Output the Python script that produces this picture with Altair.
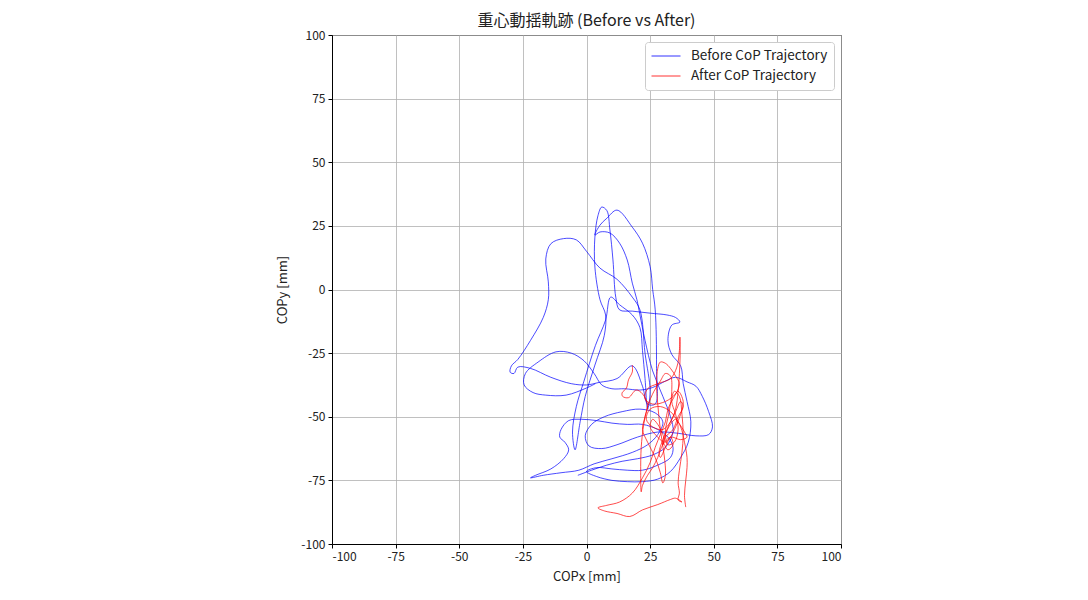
import altair as alt
import pandas as pd

series_names = ["Before CoP Trajectory", "After CoP Trajectory"]
series_colors = ["#0000ff", "#ff0000"]
axis_ticks = [-100, -75, -50, -25, 0, 25, 50, 75, 100]

before_x = [3.5, 0, -8, -16, -21, -24.5, -24, -19, -12, -6, -1, 3, 6, 10, 15, 21, 26, 31, 35, 39.5, 43,
            45.5, 48, 49.5, 48, 43, 36, 28, 20, 12, 6, 1, -0.5, 2, 7, 14, 21, 27, 30, 28, 24, 18, 10, 3,
            -3, -10, -17, -22, -20, -14, -9, -7, -8.5, -10.5, -10, -7, -2, 4, 10, 16, 22, 28, 32, 34, 33,
            28, 22, 16, 10, 4, 0, 4, 10, 16, 22, 28, 33, 37, 40, 41, 39.5, 38, 37, 33.5, 32, 33.5, 36.7,
            35, 31.6, 25, 18, 13, 11.5, 10.4, 9.2, 8, 6, 4.5, 3.3, 3.3, 5.3, 7.5, 7, 3.3, -0.5, -2.5,
            -4.5, -5.5, -4, -1, 3.5, 7.5, 9.5, 13, 18, 21, 22, 23, 24, 25, 23, 21, 18, 12, 5.3, 0, -4,
            -9, -14, -16, -15, -15, -17, -22, -27, -29.5, -30, -28.5, -27, -22, -14, -6, 0, 5, 12, 18,
            22, 24, 27, 27.5, 27, 26, 25, 22, 18, 12, 8, 5.3, 3.3, 5.3, 9.2, 13, 16, 18, 19.8, 21, 23,
            26, 30, 33, 34, 31, 26, 20, 14, 8, 2, -3.4]
before_y = [-37, -38.7, -41.5, -41.5, -40.5, -37.5, -33, -28.5, -24.5, -25, -28, -33, -37.5, -39, -39,
            -39.5, -38.5, -36, -34.5, -36.3, -38, -42, -48, -54, -57, -57.5, -56.5, -56, -58, -61,
            -62.5, -61.5, -57.5, -53, -50, -48, -47, -48.5, -52, -57, -61, -64, -66.5, -68.5, -71, -72,
            -73, -74, -73, -70.5, -66.5, -63, -60, -58, -55, -51.5, -51, -51.5, -52.5, -53, -53, -55,
            -58, -62, -66, -69, -71, -71, -70.5, -70, -71.5, -73.5, -75, -75.5, -75.5, -74.5, -71.5,
            -66, -60, -52, -44, -37, -30, -25.5, -20, -14, -12.8, -11, -10, -9.3, -8.5, -8, -3, 11.6,
            23.4, 31, 32.4, 29, 20.6, 8.8, -4, -10, -18, -29.7, -42, -52, -63, -56, -46, -36, -22, -12,
            -3, -6, -10, -15, -24, -35, -47, -40, -25, -8, -3, 4, 8.4, 15, 19.5, 20, 18, 12, 3, -4,
            -11, -20, -27.5, -30, -32.5, -33, -30.5, -31, -34.5, -37, -37.5, -36.5, -35, -30, -38,
            -45, -45, -30, -8, 0, 9, 18.2, 24.5, 31.2, 28, 25.3, 21.4, 22.6, 22.2, 18.2, 11.6, 2.5, -4,
            -10, -20, -32, -42, -50, -56, -62, -65, -66.5, -67.5, -69, -71, -73]

after_x = [18, 18, 16.5, 15.7, 14, 14.2, 16.5, 19.5, 22, 24, 23, 22, 24, 27, 29, 30, 31, 30.5, 29, 28,
           27.5, 28, 29, 31, 33, 35, 36.5, 35, 31, 26, 23, 24, 28, 33, 35.5, 36.5, 36.7, 36.8, 36.5,
           36, 35, 33, 30, 26, 23.5, 25, 29, 33, 36, 38.5, 39.5, 37, 33, 30, 28, 26, 24, 22, 21.5,
           21.3, 21.5, 22.5, 24, 26.5, 29, 31, 33, 33.5, 32.5, 31, 32, 34.5, 36, 35, 33.5, 34.5, 36.5,
           37.5, 38, 37.5, 36.5, 36, 36.5, 36, 37.5, 35, 33, 28, 22, 17, 12, 7, 4.5, 8, 13, 18, 22,
           25, 27, 29, 31, 32, 34, 36, 38, 37, 35, 33, 31, 30, 28, 26, 25, 27, 30, 32, 34, 33, 31,
           29, 28.5, 30, 32.5, 35, 37, 38, 36, 34, 31, 30, 31, 33, 35, 37, 38.5, 39.5, 39.5, 39,
           38.5, 39, 39.5, 39.5]
after_y = [-29.7, -32.4, -35.5, -38.7, -40.6, -42, -42.5, -39.5, -41, -45.5, -50, -55, -60, -66, -72,
           -76, -73, -65, -55, -45, -37, -31, -28.5, -29, -31, -34, -37, -41, -44, -45, -43, -39, -37,
           -35, -30.5, -24, -18.7, -26, -33, -40, -47, -52, -55, -54, -51, -47, -46, -48, -52, -56,
           -58, -59, -58, -61, -66, -70, -73, -77, -79.5, -72, -62, -53, -46, -40, -36, -33, -34, -40,
           -48, -56, -61, -60, -55, -49, -44, -40, -42, -49, -57, -64, -71, -76, -80, -82.7, -83.5,
           -82, -82.5, -84.5, -86.6, -89.2, -88, -87, -85.8, -84.8, -83.5, -80, -74, -68, -62, -57,
           -52, -47, -43, -40, -44, -49, -54, -58, -60, -57, -53, -51, -54, -57, -60, -63, -61, -58,
           -62, -66, -64, -59, -53, -48, -44, -46, -50, -55, -58, -61, -57, -53, -51, -54, -60, -66,
           -70, -75, -81, -85.5]

rows = []
for name, xs, ys in [(series_names[0], before_x, before_y), (series_names[1], after_x, after_y)]:
    for i, (xv, yv) in enumerate(zip(xs, ys)):
        rows.append({"x": xv, "y": yv, "series": name, "idx": i})
df = pd.DataFrame(rows)

font = "Noto Sans CJK JP"
label_expr = "replace(datum.label, '\u2212', '-')"

chart = alt.Chart(df).mark_line(strokeWidth=1, opacity=0.7, interpolate="catmull-rom").encode(
    x=alt.X("x:Q", title="COPx [mm]",
            scale=alt.Scale(domain=[-100, 100], nice=False, zero=False),
            axis=alt.Axis(values=axis_ticks, format="d", labelExpr=label_expr)),
    y=alt.Y("y:Q", title="COPy [mm]",
            scale=alt.Scale(domain=[-100, 100], nice=False, zero=False),
            axis=alt.Axis(values=axis_ticks, format="d", labelExpr=label_expr)),
    color=alt.Color("series:N", scale=alt.Scale(domain=series_names, range=series_colors),
                    legend=alt.Legend(title=None, orient="top-right", offset=7, padding=6,
                                      fillColor="white", strokeColor="#cccccc", cornerRadius=3,
                                      symbolType="stroke", symbolSize=841, symbolStrokeWidth=1,
                                      symbolOpacity=0.8, labelFontSize=13.5, labelFont=font,
                                      labelColor="#222222", rowPadding=4, labelOffset=10,
                                      clipHeight=16)),
    detail="series:N",
    order=alt.Order("idx:Q"),
).properties(
    width=509, height=509,
    title=alt.TitleParams("重心動揺軌跡 (Before vs After)", fontSize=16, font=font,
                          fontWeight="normal", color="#222222", offset=0),
    autosize=alt.AutoSizeParams(type="none"),
    padding={"left": 324, "top": 27, "right": 200, "bottom": 50},
).configure_axis(
    grid=True, gridColor="#b0b0b0", gridWidth=0.8, gridOpacity=1,
    domainColor="black", domainWidth=1, tickColor="black", tickSize=4,
    labelFont=font, labelFontSize=12, labelColor="#222222", labelPadding=3,
    titleFont=font, titleFontSize=13, titleFontWeight="normal", titleColor="#222222",
).configure_axisY(titlePadding=11).configure_axisX(titlePadding=8).configure_view(
    stroke="black", strokeWidth=1
)

chart.save("out.html", embed_options={"renderer": "svg", "actions": False})
